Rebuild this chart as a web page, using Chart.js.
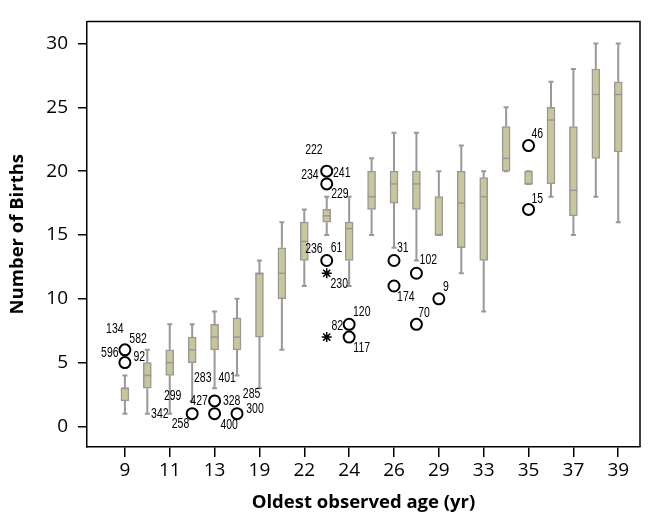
<!DOCTYPE html>
<html>
<head>
<meta charset="utf-8">
<script src="https://cdn.jsdelivr.net/npm/chart.js@4/dist/chart.umd.min.js"></script>
<style>
  html, body { margin: 0; padding: 0; background: #fff; }
</style>
</head>
<body>
<canvas id="myChart" width="652" height="522"></canvas>
<script>
// categories (only every other one gets a tick label)
const ages = ['9','10','11','12','13','14','19','20','22','23','24','25','26','27','29','30','33','34','35','36','37','38','39'];

// box plot summaries
const mins    = [1, 1, 1, 2, 3, 4,   3,  6, 11,   15, 11,   15, 14, 13, 15, 12,   9,   20, 19, 18, 15,   18, 16];
const q1      = [2, 3, 4, 5, 6, 6,   7, 10, 13,   16, 13,   17, 17.5, 17, 15, 14, 13, 20, 19, 19, 16.5, 21, 21.5];
const medians = [3, 4, 5, 6, 7, 7,  12, 12, 14.5, 16.5, 15.5, 18, 19, 19, 15, 17.5, 18, 21, 19, 24, 18.5, 26, 26];
const q3      = [3, 5, 6, 7, 8, 8.5, 12, 14, 16,   17, 16,   20, 20, 20, 18, 20, 19.5, 23.5, 20, 25, 23.5, 28, 27];
const maxs    = [4, 6, 8, 8, 9, 10, 13, 16, 17,   18, 18,   21, 23, 23, 20, 22, 20,   25, 20, 27, 28,   30, 30];

// outliers (circles) and extremes (asterisks): category index + value
const outlierCat = [0, 0, 3, 4, 4, 5, 9, 9, 9, 10, 10, 12, 12, 13, 13, 14, 18, 18];
const outlierVal = [6, 5, 1, 2, 1, 1, 20, 19, 13, 8, 7, 13, 11, 12, 8, 10, 22, 17];
const extremeCat = [9, 9];
const extremeVal = [12, 7];

// case numbers printed beside the outliers (centre in data units)
const caseText = ['134','582','596','92','342','299','258','427','283','401','328','400','285','300',
                  '222','234','241','229','236','61','230','120','82','117','31','174','102','9','70','46','15'];
const caseCat  = [-0.45, 0.59, -0.67, 0.64, 1.56, 2.13, 2.48, 3.31, 3.47, 4.56, 4.76, 4.65, 5.65, 5.80,
                  8.43, 8.25, 9.67, 9.59, 8.43, 9.44, 9.56, 10.56, 9.47, 10.56, 12.39, 12.53, 13.53, 14.32, 13.34, 18.39, 18.39];
const caseVal  = [7.63, 6.86, 5.74, 5.41, 0.95, 2.35, 0.18, 2.02, 3.75, 3.80, 2.02, 0.13, 2.52, 1.33,
                  21.61, 19.69, 19.82, 18.16, 13.90, 13.96, 11.15, 8.98, 7.88, 6.17, 13.96, 10.13, 13.06, 10.90, 8.91, 22.88, 17.83];

const yTicks = [0, 5, 10, 15, 20, 25, 30];

const boxFill = '#cac69b';
const boxLine = '#999999';

const boxParts = {
  id: 'boxParts',
  beforeDatasetsDraw(chart) {
    const {ctx, scales: {x, y}} = chart;
    ctx.save();
    ctx.strokeStyle = boxLine;
    ctx.lineWidth = 2;
    for (let i = 0; i < ages.length; i++) {
      const px = x.getPixelForValue(i);
      ctx.beginPath();
      ctx.moveTo(px, y.getPixelForValue(mins[i]));
      ctx.lineTo(px, y.getPixelForValue(q1[i]));
      ctx.moveTo(px, y.getPixelForValue(q3[i]));
      ctx.lineTo(px, y.getPixelForValue(maxs[i]));
      ctx.moveTo(px - 2.5, y.getPixelForValue(mins[i]));
      ctx.lineTo(px + 2.5, y.getPixelForValue(mins[i]));
      ctx.moveTo(px - 2.5, y.getPixelForValue(maxs[i]));
      ctx.lineTo(px + 2.5, y.getPixelForValue(maxs[i]));
      ctx.stroke();
    }
    ctx.restore();
  },
  afterDatasetsDraw(chart) {
    const {ctx, chartArea: a, scales: {x, y}} = chart;
    ctx.save();
    // medians
    ctx.strokeStyle = boxLine;
    ctx.lineWidth = 1.5;
    for (let i = 0; i < ages.length; i++) {
      const px = x.getPixelForValue(i);
      const py = y.getPixelForValue(medians[i]);
      ctx.beginPath();
      ctx.moveTo(px - 4, py);
      ctx.lineTo(px + 4, py);
      ctx.stroke();
    }
    // case labels, squeezed to look condensed
    ctx.fillStyle = '#000';
    ctx.font = '14px "Liberation Sans", sans-serif';
    ctx.textAlign = 'center';
    ctx.textBaseline = 'middle';
    caseText.forEach((t, k) => {
      const px = x.getPixelForValue(caseCat[k]);
      const py = y.getPixelForValue(caseVal[k]);
      ctx.save();
      ctx.translate(px, py);
      ctx.scale(0.75, 1);
      ctx.fillText(t, 0, 0);
      ctx.restore();
    });
    // frame top and right
    ctx.strokeStyle = '#000';
    ctx.lineWidth = 1.5;
    ctx.beginPath();
    ctx.moveTo(a.left, a.top);
    ctx.lineTo(a.right, a.top);
    ctx.lineTo(a.right, a.bottom);
    ctx.stroke();
    ctx.restore();
  }
};

const ctx = document.getElementById('myChart');
const myChart = new Chart(ctx, {
  type: 'bar',
  data: {
    datasets: [{
      label: 'box',
      data: ages.map((a, i) => ({x: i, y: [q1[i], q3[i]]})),
      backgroundColor: boxFill,
      borderColor: boxLine,
      borderWidth: 1.5,
      borderSkipped: false,
      barThickness: 8
    }, {
      type: 'scatter',
      label: 'outliers',
      data: outlierCat.map((c, k) => ({x: c, y: outlierVal[k]})),
      pointStyle: 'circle',
      pointRadius: 5.5,
      borderColor: '#000',
      borderWidth: 2,
      backgroundColor: '#fff'
    }, {
      type: 'scatter',
      label: 'extremes',
      data: extremeCat.map((c, k) => ({x: c, y: extremeVal[k]})),
      pointStyle: 'star',
      pointRadius: 5,
      borderColor: '#000',
      borderWidth: 1.5
    }]
  },
  options: {
    responsive: false,
    animation: false,
    layout: { padding: { top: 11, right: 12, left: 0, bottom: 0 } },
    plugins: { legend: { display: false }, tooltip: { enabled: false } },
    scales: {
      x: {
        type: 'linear',
        min: -1.69,
        max: 22.97,
        offset: false,
        afterBuildTicks: (s) => { s.ticks = ages.map((a, i) => ({value: i})).filter(t => t.value % 2 === 0); },
        afterFit: (s) => { s.height = 75; },
        ticks: {
          autoSkip: false,
          maxRotation: 0,
          padding: 2,
          color: '#000',
          font: { family: '"Open Sans", sans-serif', size: 19 },
          callback: (v) => ages[v]
        },
        grid: { offset: false, drawOnChartArea: false, drawTicks: true, tickLength: 10, color: '#000', lineWidth: 1.5 },
        border: { display: true, color: '#000', width: 1.5 },
        title: {
          display: true,
          text: 'Oldest observed age (yr)',
          color: '#000',
          font: { family: '"Open Sans", sans-serif', size: 18.5, weight: 'bold' },
          padding: { top: 0, bottom: 8 }
        }
      },
      y: {
        min: -1.61,
        max: 31.73,
        afterBuildTicks: (s) => { s.ticks = yTicks.map(v => ({value: v})); },
        afterFit: (s) => { s.width = 87; },
        ticks: {
          padding: 10,
          color: '#000',
          font: { family: '"Open Sans", sans-serif', size: 19 }
        },
        grid: { drawOnChartArea: false, drawTicks: true, tickLength: 9, color: '#000', lineWidth: 1.5 },
        border: { display: true, color: '#000', width: 1.5 },
        title: {
          display: true,
          text: 'Number of Births',
          color: '#000',
          font: { family: '"Open Sans", sans-serif', size: 18.5, weight: 'bold' },
          padding: { top: 7, bottom: 0 }
        }
      }
    }
  },
  plugins: [boxParts]
});
</script>
</body>
</html>
